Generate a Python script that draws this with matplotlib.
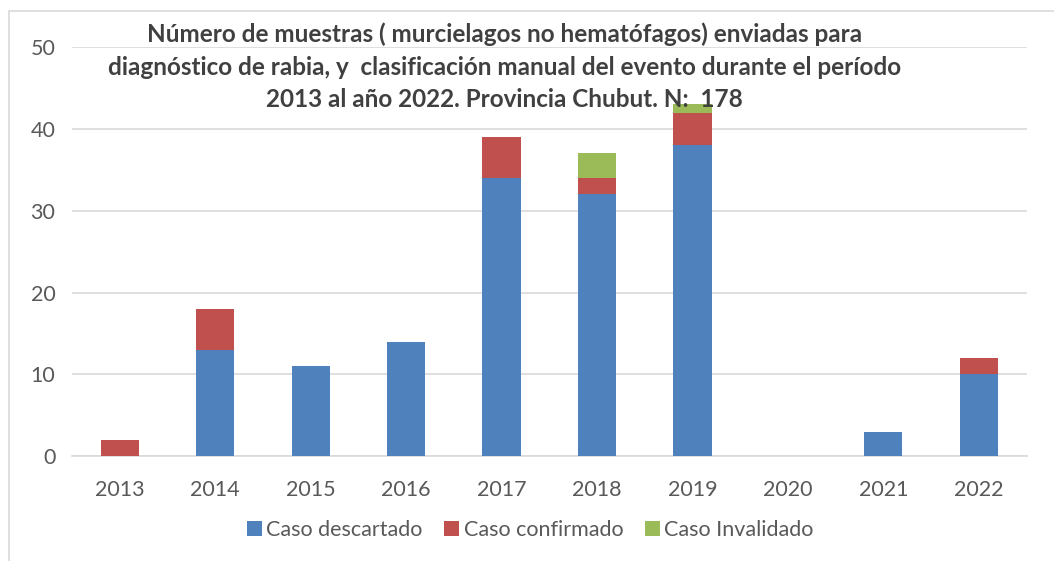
import matplotlib
import matplotlib.pyplot as plt
from matplotlib.patches import Rectangle

import numpy as np

matplotlib.use('Agg')

years = ['2013', '2014', '2015', '2016', '2017', '2018', '2019', '2020', '2021', '2022']
descartado = [0, 13, 11, 14, 34, 32, 38, 0, 3, 10]
confirmado = [2, 5, 0, 0, 5, 2, 4, 0, 0, 2]
invalidado = [0, 0, 0, 0, 0, 3, 1, 0, 0, 0]

title = ('Número de muestras ( murcielagos no hematófagos) enviadas para\n'
         'diagnóstico de rabia, y  clasificación manual del evento durante el período\n'
         '2013 al año 2022. Provincia Chubut. N:  178')

plt.rcParams['font.family'] = ['Lato', 'DejaVu Sans']

fig = plt.figure(figsize=(10.54, 5.61), dpi=100)
ax = fig.add_axes([0.0683, 0.187, 0.9057, 0.729])

x = np.arange(len(years))
d = np.array(descartado)
c = np.array(confirmado)
i = np.array(invalidado)
w = 0.4
ax.bar(x, d, w, color='#4F81BD', label='Caso descartado', zorder=3)
ax.bar(x, c, w, bottom=d, color='#C0504D', label='Caso confirmado', zorder=3)
ax.bar(x, i, w, bottom=d + c, color='#9BBB59', label='Caso Invalidado', zorder=3)

ax.set_xlim(-0.5, 9.5)
ax.set_ylim(0, 50)
ax.set_yticks(range(0, 51, 10))
ax.set_xticks(x)
ax.set_xticklabels(years)
ax.yaxis.grid(True, color='#D9D9D9', linewidth=1.2, zorder=0)
for s in ['top', 'right', 'left']:
    ax.spines[s].set_visible(False)
ax.spines['bottom'].set_color('#D9D9D9')
ax.spines['bottom'].set_linewidth(1.2)
ax.tick_params(length=0, labelsize=15.5, labelcolor='#595959')
ax.tick_params(axis='x', pad=17)
ax.tick_params(axis='y', pad=12)

fig.text(0.479, 0.96, title, ha='center', va='top', fontsize=17.5,
         fontweight='bold', color='#404040', linespacing=1.5)

fig.legend(loc='center', bbox_to_anchor=(0.503, 0.055), ncol=3, frameon=False,
           fontsize=15.5, labelcolor='#595959', handlelength=0.7, handleheight=0.7,
           handletextpad=0.2, columnspacing=1.0)

fig.add_artist(Rectangle((0.009, -0.01), 1.0, 0.99, transform=fig.transFigure,
                         fill=False, edgecolor='#D9D9D9', linewidth=1.2))

plt.savefig('out.png', dpi=100)
